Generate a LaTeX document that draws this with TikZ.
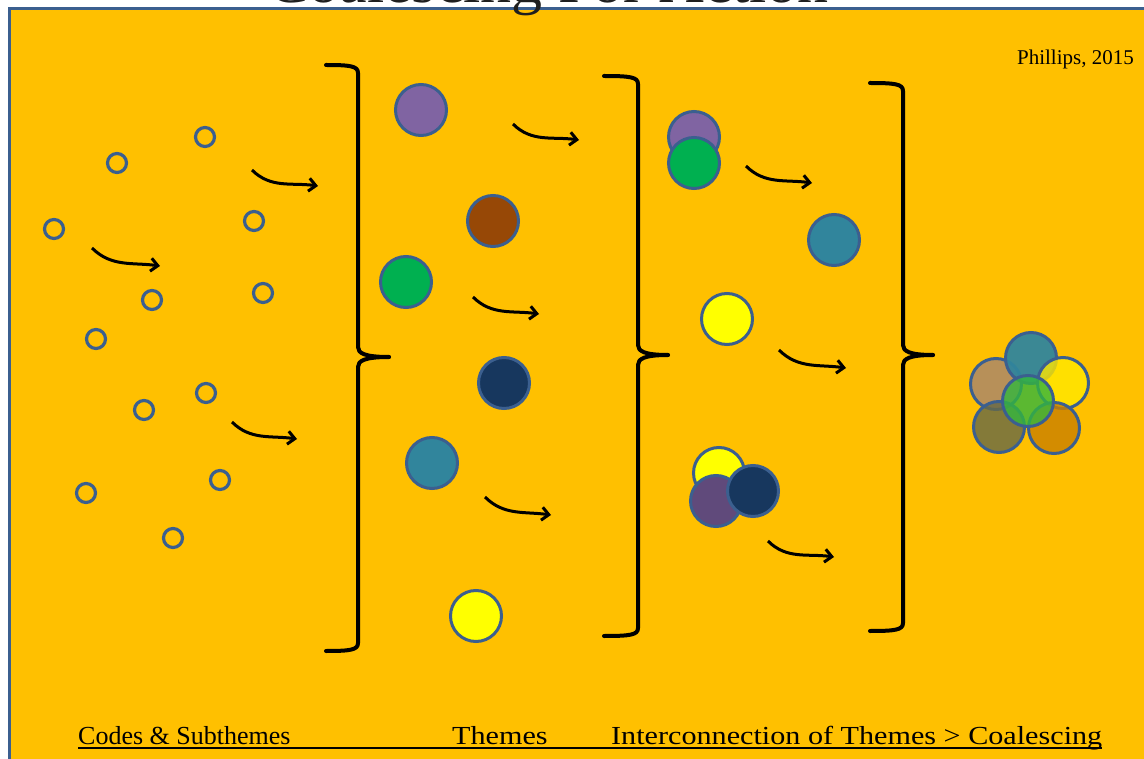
\documentclass[tikz,border=0pt]{standalone}
\usepackage{fontspec}
\setmainfont{Liberation Serif}
\usepackage{tikz}
\usetikzlibrary{arrows.meta}
\usepackage{xcolor}
\usepackage{graphicx}

\definecolor{slideorange}{HTML}{FFC000}
\definecolor{edgeblue}{HTML}{3B5F8F}
\definecolor{titlegray}{HTML}{1F1F1F}
\definecolor{thmpurple}{HTML}{8064A2}
\definecolor{thmbrown}{HTML}{974806}
\definecolor{thmgreen}{HTML}{00B050}
\definecolor{thmnavy}{HTML}{17375E}
\definecolor{thmteal}{HTML}{31859C}
\definecolor{thmyellow}{HTML}{FFFF00}
\definecolor{thmplum}{HTML}{604A7B}
\definecolor{mixtan}{HTML}{A68470}
\definecolor{mixolive}{HTML}{666948}
\definecolor{mixorange}{HTML}{C97F00}
\definecolor{mixyellow}{HTML}{FFE800}
\definecolor{mixgreen}{HTML}{33B63E}

\tikzset{
  code/.style={circle,draw=edgeblue,line width=3.2pt,minimum size=19pt,inner sep=0pt},
  theme/.style={circle,draw=edgeblue,line width=3pt,minimum size=51pt,inner sep=0pt},
  mix/.style={theme,fill opacity=0.8},
  flow/.style={-{Straight Barb[length=7pt,width=13pt]},line width=3pt},
  brace/.style={line width=4pt,line cap=round,line join=round},
  footlabel/.style={anchor=base west,inner sep=0pt,font=\fontsize{26}{30}\selectfont}
}

\begin{document}
\begin{tikzpicture}[x=1pt,y=1pt]
				\useasboundingbox (0,0) rectangle (1144,-759);
				\fill[slideorange] (9,-9) rectangle (1150,-770);
				\draw[edgeblue,line width=3pt] (9,-770) -- (9,-9) -- (1150,-9);
				\node(title) at (548,-3)[anchor=base,inner sep=0pt,text=titlegray,font=\fontsize{62}{66}\selectfont]{Coalescing For Action};
				\node(cite) at (1134,-65)[anchor=base east,inner sep=0pt,font=\fontsize{21}{24}\selectfont]{Phillips, 2015};
				
				% codes
				\node(c1) at (205,-137)[code]{};
				\node(c2) at (117,-163)[code]{};
				\node(c3) at (54,-229)[code]{};
				\node(c4) at (254,-221)[code]{};
				\node(c5) at (152,-300)[code]{};
				\node(c6) at (263,-293)[code]{};
				\node(c7) at (96,-339)[code]{};
				\node(c8) at (206,-393)[code]{};
				\node(c9) at (144,-410)[code]{};
				\node(c10) at (220,-480)[code]{};
				\node(c11) at (86,-493)[code]{};
				\node(c12) at (173,-538)[code]{};
				
				% themes
				\node(t1) at (421,-110)[theme,fill=thmpurple]{};
				\node(t2) at (493,-221)[theme,fill=thmbrown]{};
				\node(t3) at (406,-282)[theme,fill=thmgreen]{};
				\node(t4) at (504,-383)[theme,fill=thmnavy]{};
				\node(t5) at (432,-463)[theme,fill=thmteal]{};
				\node(t6) at (476,-616)[theme,fill=thmyellow]{};
				
				% interconnection
				\node(i1) at (694,-137)[theme,fill=thmpurple]{};
				\node(i2) at (694,-163)[theme,fill=thmgreen]{};
				\node(i3) at (834,-240)[theme,fill=thmteal]{};
				\node(i4) at (727,-319)[theme,fill=thmyellow]{};
				\node(i5) at (719,-473)[theme,fill=thmyellow]{};
				\node(i6) at (716,-501)[theme,fill=thmplum]{};
				\node(i7) at (753,-491)[theme,fill=thmnavy]{};
				
				% coalescing
				\node(k1) at (996,-384)[mix,fill=mixtan]{};
				\node(k2) at (1031,-358)[mix,fill=thmteal,fill opacity=0.95]{};
				\node(k3) at (1063,-383)[mix,fill=mixyellow]{};
				\node(k4) at (999,-427)[mix,fill=mixolive]{};
				\node(k5) at (1054,-428)[mix,fill=mixorange]{};
				\node(k6) at (1028,-401)[mix,fill=mixgreen]{};
				
				% brackets
				\draw[brace] (326,-65) .. controls (350,-65) and (358,-66) .. (358,-73) -- (358,-347) .. controls (358,-353) and (364,-357) .. (389,-357);
				\draw[brace] (389,-357) .. controls (364,-357) and (358,-361) .. (358,-367) -- (358,-643) .. controls (358,-650) and (350,-651) .. (326,-651);
				\draw[brace] (604,-76) .. controls (630,-76) and (638,-77) .. (638,-84) -- (638,-345) .. controls (638,-351) and (644,-355) .. (668,-355);
				\draw[brace] (668,-355) .. controls (644,-355) and (638,-359) .. (638,-365) -- (638,-628) .. controls (638,-635) and (630,-636) .. (604,-636);
				\draw[brace] (870,-83) .. controls (895,-83) and (903,-84) .. (903,-91) -- (903,-345) .. controls (903,-351) and (909,-355) .. (933,-355);
				\draw[brace] (933,-355) .. controls (909,-355) and (903,-359) .. (903,-365) -- (903,-623) .. controls (903,-630) and (895,-631) .. (870,-631);
				
				% arrows
				\coordinate(s1) at (252,-170); \coordinate(e1) at (318,-186);
				\coordinate(s2) at (92,-248); \coordinate(e2) at (160,-266);
				\coordinate(s3) at (232,-422); \coordinate(e3) at (297,-439);
				\coordinate(s4) at (513,-124); \coordinate(e4) at (579,-140);
				\coordinate(s5) at (473,-297); \coordinate(e5) at (539,-314);
				\coordinate(s6) at (485,-497); \coordinate(e6) at (551,-515);
				\coordinate(s7) at (746,-166); \coordinate(e7) at (812,-183);
				\coordinate(s8) at (779,-350); \coordinate(e8) at (846,-368);
				\coordinate(s9) at (768,-541); \coordinate(e9) at (834,-557);
				\draw[flow] (s1) to[out=-45,in=172] (e1);
				\draw[flow] (s2) to[out=-45,in=172] (e2);
				\draw[flow] (s3) to[out=-45,in=172] (e3);
				\draw[flow] (s4) to[out=-45,in=172] (e4);
				\draw[flow] (s5) to[out=-45,in=172] (e5);
				\draw[flow] (s6) to[out=-45,in=172] (e6);
				\draw[flow] (s7) to[out=-45,in=172] (e7);
				\draw[flow] (s8) to[out=-45,in=172] (e8);
				\draw[flow] (s9) to[out=-45,in=172] (e9);
				
				% stage labels
				\node(lcodes) at (78,-744)[footlabel]{Codes \& Subthemes};
				\node(lthemes) at (452,-744)[footlabel]{\scalebox{1.16}[1]{Themes}};
				\node(lcoal) at (611,-744)[footlabel]{\scalebox{1.16}[1]{Interconnection of Themes > Coalescing}};
				\draw[line width=1.2pt] ([yshift=-4pt]lcodes.base west) -- ([yshift=-4pt]lcoal.base west -| lcoal.east);
				
			\end{tikzpicture}
\end{document}
